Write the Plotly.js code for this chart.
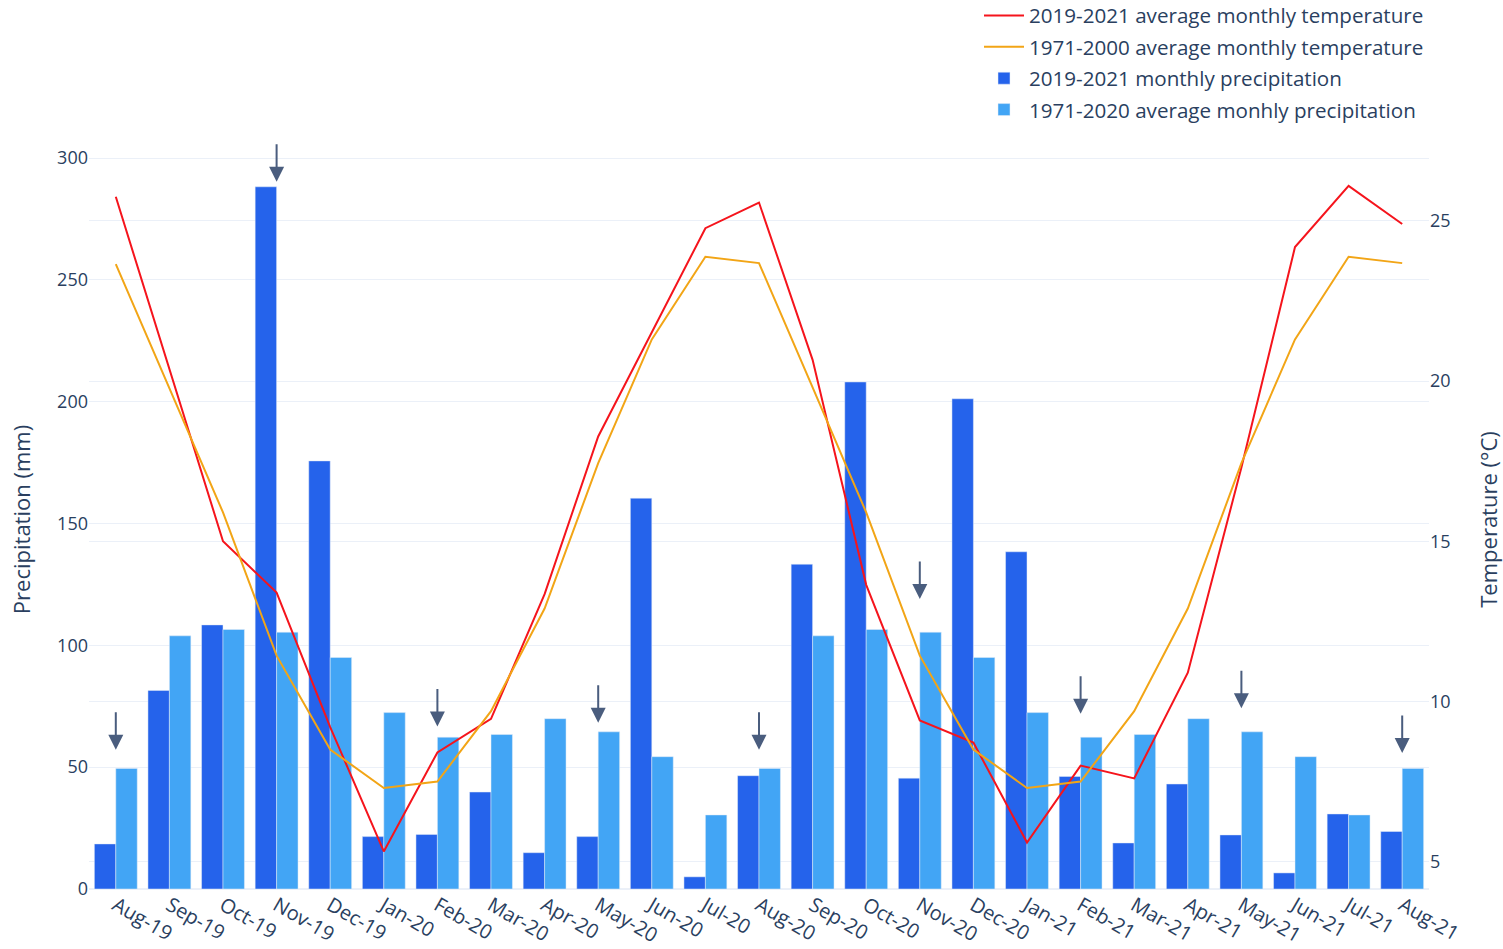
<!DOCTYPE html>
<html>
<head>
<meta charset="utf-8">
<script src="https://cdn.plot.ly/plotly-3.0.1.min.js"></script>
<style>html,body{margin:0;padding:0;background:#fff;}#chart{width:1503px;height:949px;}</style>
</head>
<body>
<div id="chart"></div>
<script>
const months = ['Aug-19','Sep-19','Oct-19','Nov-19','Dec-19','Jan-20','Feb-20','Mar-20','Apr-20','May-20','Jun-20','Jul-20','Aug-20','Sep-20','Oct-20','Nov-20','Dec-20','Jan-21','Feb-21','Mar-21','Apr-21','May-21','Jun-21','Jul-21','Aug-21'];
const precip2019_2021 = [18.5, 81.5, 108.4, 288.2, 175.7, 21.5, 22.4, 39.8, 14.9, 21.5, 160.4, 5.0, 46.5, 133.3, 208.1, 45.5, 201.2, 138.4, 46.2, 18.9, 43.1, 22.2, 6.6, 30.8, 23.6];
const precipNormal1971_2020 = [49.5, 103.9, 106.5, 105.4, 95.0, 72.4, 62.3, 63.4, 69.9, 64.5, 54.3, 30.4, 49.5, 103.9, 106.5, 105.4, 95.0, 72.4, 62.3, 63.4, 69.9, 64.5, 54.3, 30.4, 49.5];
const temp2019_2021 = [25.75, 20.4, 15.0, 13.4, 9.2, 5.32, 8.41, 9.46, 13.35, 18.27, 21.5, 24.77, 25.57, 20.66, 13.64, 9.41, 8.72, 5.6, 8.0, 7.6, 10.9, 17.3, 24.18, 26.09, 24.9];
const tempNormal1971_2000 = [23.65, 19.8, 15.9, 11.43, 8.5, 7.3, 7.5, 9.7, 12.9, 17.44, 21.3, 23.88, 23.68, 19.8, 15.9, 11.43, 8.5, 7.3, 7.5, 9.7, 12.9, 17.44, 21.3, 23.88, 23.68];
const arrowMonths = ['Aug-19','Nov-19','Feb-20','May-20','Aug-20','Nov-20','Feb-21','May-21','Aug-21'];
const arrowTipPrecip = [57.1, 290.3, 66.7, 68.2, 57.1, 119.0, 71.9, 74.2, 55.8];

const traces = [
  {x: months, y: temp2019_2021, type: 'scatter', mode: 'lines', name: '2019-2021 average monthly temperature',
   legendgroup: 'g1', line: {color: '#f5141c', width: 2}, yaxis: 'y2'},
  {x: months, y: tempNormal1971_2000, type: 'scatter', mode: 'lines', name: '1971-2000 average monthly temperature',
   legendgroup: 'g2', line: {color: '#f2a516', width: 2}, yaxis: 'y2'},
  {x: months, y: precip2019_2021, type: 'bar', name: '2019-2021 monthly precipitation',
   legendgroup: 'g3', marker: {color: '#2563eb', line: {color: '#E5ECF6', width: 0.5}}},
  {x: months, y: precipNormal1971_2020, type: 'bar', name: '1971-2020 average monhly precipitation',
   legendgroup: 'g4', marker: {color: '#42a5f5', line: {color: '#E5ECF6', width: 0.5}}}
];

const annotations = arrowMonths.map((m, i) => ({
  x: m, y: arrowTipPrecip[i], xref: 'x', yref: 'y', text: '', showarrow: true,
  arrowhead: 2, arrowsize: 1.5, arrowwidth: 2, arrowcolor: '#4a5d7e', ax: 0, ay: -39
}));

const layout = {
  width: 1503, height: 949,
  margin: {l: 89, r: 74, t: 150, b: 60, autoexpand: false},
  paper_bgcolor: '#fff', plot_bgcolor: '#fff',
  font: {family: '"Open Sans", sans-serif', color: '#2a3f5f', size: 18},
  barmode: 'group', bargap: 0.2,
  showlegend: true,
  legend: {x: 1, xanchor: 'right', y: 1.209, yanchor: 'top', font: {size: 20.6}, itemwidth: 40,
    traceorder: 'grouped', tracegroupgap: 1.6, bgcolor: 'rgba(0,0,0,0)'},
  xaxis: {type: 'category', tickangle: 30, tickfont: {size: 20}, showgrid: false, zeroline: false, showline: false, automargin: false},
  yaxis: {title: {text: 'Precipitation (mm)', font: {size: 22}, standoff: 20}, range: [0, 303.3], dtick: 50, tick0: 0,
    gridcolor: '#EBF0F8', zerolinecolor: '#EBF0F8', zerolinewidth: 2, showline: false, tickfont: {size: 18}, automargin: false},
  yaxis2: {title: {text: 'Temperature (°C)', font: {size: 22}, standoff: 32}, overlaying: 'y', side: 'right', range: [4.148, 27.21], dtick: 5, tick0: 0,
    gridcolor: '#EBF0F8', zeroline: false, showline: false, tickfont: {size: 18}, automargin: false},
  annotations: annotations
};

Plotly.newPlot('chart', traces, layout, {displayModeBar: false, staticPlot: true});
</script>
</body>
</html>
